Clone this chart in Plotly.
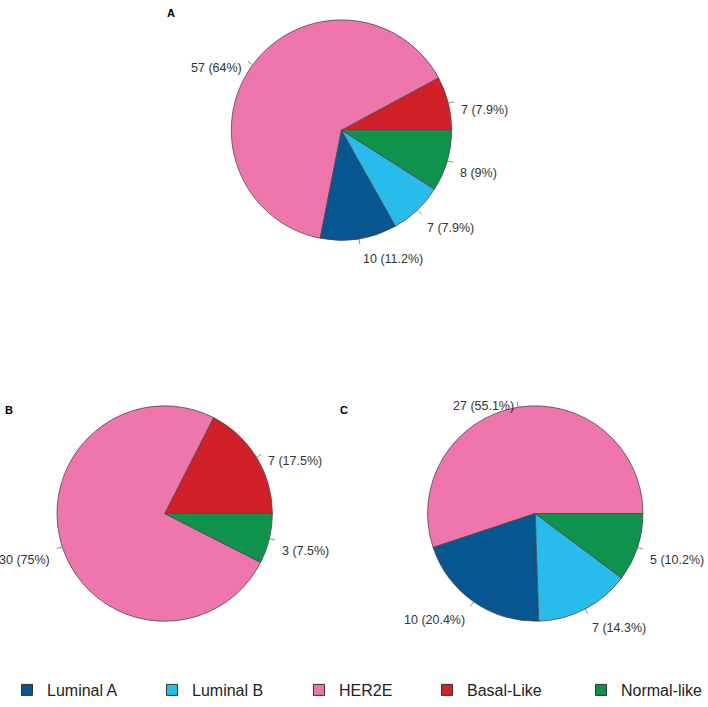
import math
import plotly.graph_objects as go

# ---- data ----
legend_labels = ["Luminal A", "Luminal B", "HER2E", "Basal-Like", "Normal-like"]
colors = ["#07568F", "#27BCEC", "#EF76AC", "#D12027", "#0F924B"]

labels_A = ["Basal-Like", "HER2E", "Luminal A", "Luminal B", "Normal-like"]
values_A = [7, 57, 10, 7, 8]
labels_B = ["Basal-Like", "HER2E", "Normal-like"]
values_B = [7, 30, 3]
labels_C = ["HER2E", "Luminal A", "Luminal B", "Normal-like"]
values_C = [27, 10, 7, 5]
panel_titles = ["A", "B", "C"]

# ---- layout constants (pixels) ----
W, H = 708, 707
pies = [
    dict(labels=labels_A, values=values_A, cx=341.5, cy=130.5, r=110.5, title=panel_titles[0], tx=171, ty=13.5),
    dict(labels=labels_B, values=values_B, cx=164.7, cy=515.0, r=108.0, title=panel_titles[1], tx=8.5, ty=411),
    dict(labels=labels_C, values=values_C, cx=535.3, cy=515.0, r=108.0, title=panel_titles[2], tx=344, ty=411),
]
cmap = dict(zip(legend_labels, colors))

def px2paper(x, y):
    return x / W, 1 - y / H

fig = go.Figure()
shapes = []
annotations = []

for p in pies:
    x0, y1 = px2paper(p["cx"] - p["r"], p["cy"] - p["r"])
    x1, y0 = px2paper(p["cx"] + p["r"], p["cy"] + p["r"])
    tot = sum(p["values"])
    # first slice starts at 3 o'clock and slices run counterclockwise
    rot = 90 - 360.0 * p["values"][0] / tot
    fig.add_trace(go.Pie(
        labels=p["labels"], values=p["values"], sort=False,
        direction="counterclockwise", rotation=rot,
        marker=dict(colors=[cmap[l] for l in p["labels"]],
                    line=dict(color="#4a4a4a", width=0.8)),
        textinfo="none", hoverinfo="label+value+percent",
        domain=dict(x=[x0, x1], y=[y0, y1]), showlegend=False,
    ))
    cum = 0.0
    for lab, v in zip(p["labels"], p["values"]):
        mid = 2 * math.pi * (cum + v / 2) / tot  # ccw from 3 o'clock
        cum += v
        dx, dy = math.cos(mid), -math.sin(mid)
        ax, ay = px2paper(p["cx"] + p["r"] * dx, p["cy"] + p["r"] * dy)
        bx, by = px2paper(p["cx"] + 1.05 * p["r"] * dx, p["cy"] + 1.05 * p["r"] * dy)
        shapes.append(dict(type="line", xref="paper", yref="paper", x0=ax, y0=ay, x1=bx, y1=by,
                           line=dict(color="#8a8a8a", width=1)))
        tx, ty = px2paper(p["cx"] + 1.1 * p["r"] * dx, p["cy"] + 1.1 * p["r"] * dy)
        pct = round(100 * v / tot, 1)
        annotations.append(dict(
            text=f"{v} ({pct:g}%)", xref="paper", yref="paper", x=tx, y=ty,
            xanchor="left" if dx > 0 else "right", yanchor="middle", yshift=-9.5,
            showarrow=False, font=dict(family="Liberation Sans, Arial", size=12.5, color="#333333")))
    tx, ty = px2paper(p["tx"], p["ty"])
    annotations.append(dict(text=f"<b>{p['title']}</b>", xref="paper", yref="paper", x=tx, y=ty,
                            xanchor="center", yanchor="middle", showarrow=False,
                            font=dict(family="Liberation Sans, Arial", size=11, color="#000000")))

# legend: one legend per item so each can sit at its own place
legend_centers = [26, 171, 318, 446, 600]
leg_y = 692
layout_legends = {}
for i, (lab, col, lx) in enumerate(zip(legend_labels, colors, legend_centers)):
    key = "legend" if i == 0 else f"legend{i + 1}"
    fig.add_trace(go.Scatter(
        x=[None], y=[None], mode="markers", name=lab, legend=key,
        marker=dict(symbol="square", size=11, color=col, line=dict(color="#333333", width=1)),
    ))
    xx, yy = px2paper(lx - 19, leg_y)
    layout_legends[key] = dict(x=xx, y=yy, xanchor="left", yanchor="middle",
                               bgcolor="rgba(0,0,0,0)", borderwidth=0,
                               font=dict(family="Liberation Sans, Arial", size=16, color="#222222"))

fig.update_layout(
    width=W, height=H, margin=dict(l=0, r=0, t=0, b=0),
    paper_bgcolor="white", plot_bgcolor="white",
    xaxis=dict(visible=False), yaxis=dict(visible=False),
    shapes=shapes, annotations=annotations,
    **layout_legends,
)

fig.write_html("out.html", config={"displayModeBar": False},
               post_script="document.body.style.margin='0px';")
